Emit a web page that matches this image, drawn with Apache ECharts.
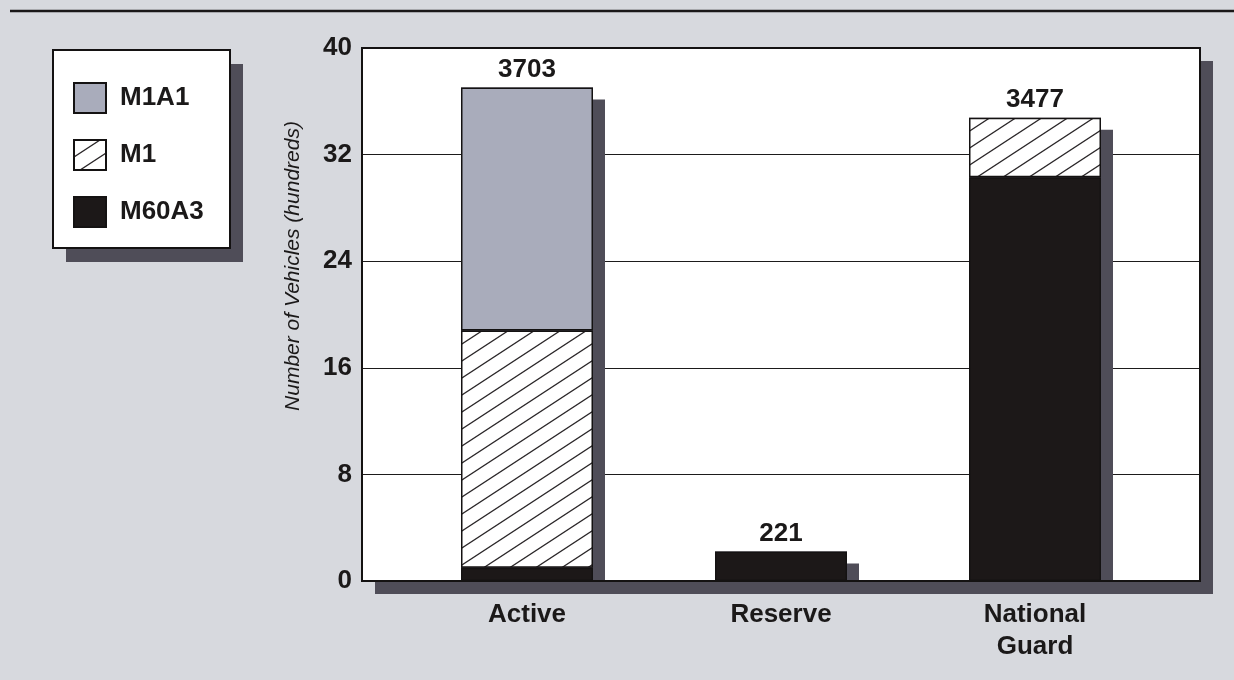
<!DOCTYPE html>
<html>
<head>
<meta charset="utf-8">
<script src="https://cdn.jsdelivr.net/npm/echarts@6/dist/echarts.min.js"></script>
<style>
  html, body { margin: 0; padding: 0; background: #d7d9de; }
  #chart { width: 1234px; height: 680px; }
</style>
</head>
<body>
<div id="chart"></div>
<script>
// Tank fleet by component (hundreds of vehicles)
const categories = ['Active', 'Reserve', 'National\nGuard'];
const seriesNames = ['M1A1', 'M1', 'M60A3'];
const m60a3 = [1.0, 2.21, 30.3];
const m1 = [17.8, null, 4.47];
const m1a1 = [18.23, null, null];
const totals = [37.03, 2.21, 34.77];
const yMin = 0, yMax = 40, yStep = 8;
const yTitle = 'Number of Vehicles (hundreds)';

const FONT = '"Liberation Sans", Arial, Helvetica, sans-serif';
const INK = '#1b1919';
const SHADOW = '#4f4d58';

// plot frame and legend box geometry (px)
const plotBox = { left: 362, top: 48, right: 1200, bottom: 581 };
const legendBox = { x: 53, y: 50, width: 177, height: 198 };

// diagonal hatch tile for the M1 fill
function hatchTile() {
  const w = 26, h = 17;
  const c = document.createElement('canvas');
  c.width = w; c.height = h;
  const g = c.getContext('2d');
  g.fillStyle = '#ffffff';
  g.fillRect(0, 0, w, h);
  g.strokeStyle = '#2a2628';
  g.lineWidth = 1.3;
  [-w, 0, w].forEach(dx => {
    g.beginPath();
    g.moveTo(dx - w, 2 * h);
    g.lineTo(dx + 2 * w, -h);
    g.stroke();
  });
  return c;
}
const hatch = { image: hatchTile(), repeat: 'repeat' };

const chart = echarts.init(document.getElementById('chart'), null, { renderer: 'canvas' });

const barBase = {
  type: 'bar',
  xAxisIndex: 1,
  yAxisIndex: 1,
  barWidth: 132,
  barGap: '-100%',
  stack: 'fleet'
};

chart.setOption({
  backgroundColor: '#d7d9de',
  animation: false,
  textStyle: { fontFamily: FONT, color: INK },
  legend: {
    data: seriesNames,
    orient: 'vertical',
    left: legendBox.x,
    top: legendBox.y,
    padding: [32, 20, 26, 20],
    itemGap: 25,
    itemWidth: 32,
    itemHeight: 30,
    icon: 'rect',
    selectedMode: false,
    textStyle: {
      fontFamily: FONT, fontSize: 26, fontWeight: 'bold', color: INK,
      lineHeight: 30, padding: [0, 0, 0, 9]
    }
  },
  grid: [
    {
      left: plotBox.left, right: 1234 - plotBox.right, top: plotBox.top, bottom: 680 - plotBox.bottom,
      show: true,
      backgroundColor: '#ffffff',
      borderWidth: 0,
      shadowColor: SHADOW,
      shadowBlur: 0,
      shadowOffsetX: 13,
      shadowOffsetY: 13
    },
    { left: 400, right: 72, top: plotBox.top, bottom: 680 - plotBox.bottom }
  ],
  xAxis: [
    { type: 'category', gridIndex: 0, data: categories, show: false },
    {
      type: 'category', gridIndex: 1, data: categories,
      axisLine: { show: false },
      axisTick: { show: false },
      axisLabel: {
        margin: 18,
        fontFamily: FONT, fontSize: 26, fontWeight: 'bold', color: INK, lineHeight: 32
      }
    }
  ],
  yAxis: [
    {
      type: 'value', gridIndex: 0, min: yMin, max: yMax, interval: yStep,
      axisLine: { show: false },
      axisTick: { show: false },
      splitLine: { lineStyle: { color: '#1d1b1b', width: 1.2 } },
      axisLabel: { margin: 10, fontFamily: FONT, fontSize: 26, fontWeight: 'bold', color: INK }
    },
    { type: 'value', gridIndex: 1, min: yMin, max: yMax, interval: yStep, show: false }
  ],
  graphic: [
    {
      type: 'line',
      shape: { x1: 10, y1: 11, x2: 1234, y2: 11 },
      style: { stroke: '#1a1818', lineWidth: 2.5 }
    },
    {
      // legend box drop shadow
      type: 'rect',
      z: 0,
      shape: { x: legendBox.x + 13, y: legendBox.y + 14, width: legendBox.width, height: legendBox.height },
      style: { fill: SHADOW }
    },
    {
      // legend box
      type: 'rect',
      z: 1,
      shape: { x: legendBox.x, y: legendBox.y, width: legendBox.width, height: legendBox.height },
      style: { fill: '#ffffff', stroke: '#141212', lineWidth: 2 }
    },
    {
      // plot frame
      type: 'rect',
      z: 100,
      shape: {
        x: plotBox.left, y: plotBox.top,
        width: plotBox.right - plotBox.left, height: plotBox.bottom - plotBox.top
      },
      style: { fill: null, stroke: '#141212', lineWidth: 2 }
    },
    {
      type: 'text',
      x: 293, y: 266,
      rotation: Math.PI / 2,
      style: {
        text: yTitle,
        font: 'italic 21px ' + FONT,
        fill: INK,
        textAlign: 'center',
        textVerticalAlign: 'middle'
      }
    }
  ],
  series: [
    {
      // full-height bar beneath the stack: casts the drop shadow and carries the total label
      name: 'Total',
      type: 'bar',
      xAxisIndex: 1,
      yAxisIndex: 1,
      barWidth: 132,
      barGap: '-100%',
      z: 1,
      data: totals,
      itemStyle: {
        color: SHADOW,
        shadowColor: SHADOW,
        shadowBlur: 0,
        shadowOffsetX: 12,
        shadowOffsetY: 12
      },
      label: {
        show: true,
        position: 'top',
        distance: 5,
        formatter: p => String(Math.round(p.value * 100)),
        fontFamily: FONT, fontSize: 26, fontWeight: 'bold', color: INK
      }
    },
    Object.assign({}, barBase, {
      name: 'M60A3', z: 3, data: m60a3,
      itemStyle: { color: '#1c1818', borderColor: '#141212', borderWidth: 1.5 }
    }),
    Object.assign({}, barBase, {
      name: 'M1', z: 3, data: m1,
      itemStyle: { color: hatch, borderColor: '#141212', borderWidth: 1.5 }
    }),
    Object.assign({}, barBase, {
      name: 'M1A1', z: 3, data: m1a1,
      itemStyle: { color: '#a9acbb', borderColor: '#141212', borderWidth: 1.5 }
    })
  ]
});
</script>
</body>
</html>
